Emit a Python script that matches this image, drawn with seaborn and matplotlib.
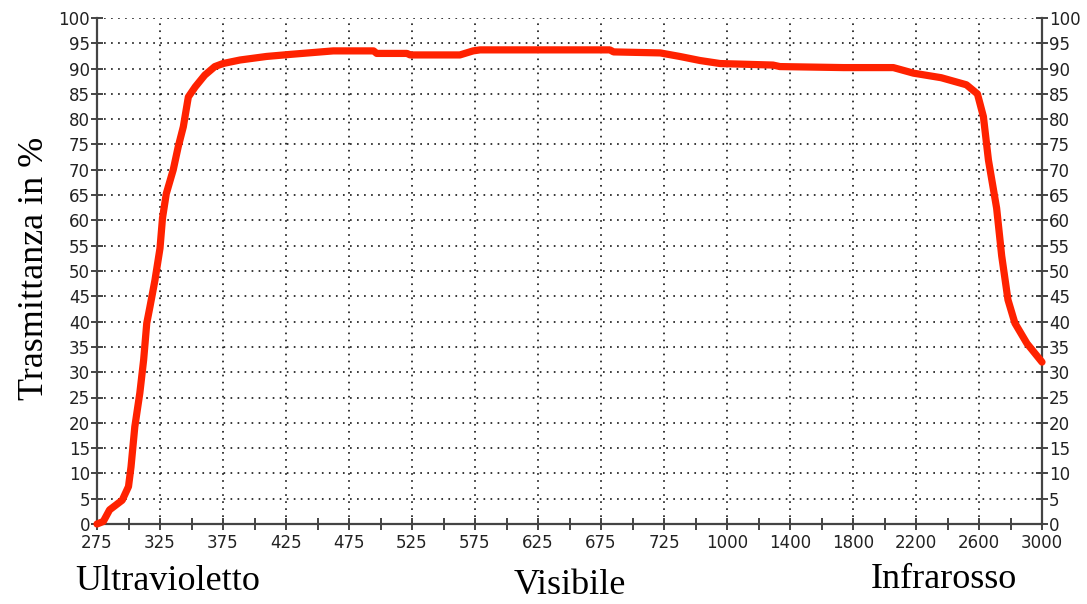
import numpy as np
import pandas as pd
import matplotlib
matplotlib.use("Agg")
import matplotlib.pyplot as plt
import seaborn as sns

# ---- data ----
wavelength_nm = [275, 280, 285, 295, 300, 302, 305, 309, 312, 314.5, 317, 321, 325,
                 327, 330, 335.5, 339.5, 343.5, 347.5, 353, 360.5, 368.5, 375,
                 388.5, 409.5, 428, 462.5, 494.5, 497, 521, 523.5, 563, 573.5, 579,
                 682, 685, 722, 794, 882, 970, 1292, 1336, 1740, 2056, 2184, 2360,
                 2520, 2590, 2628, 2660, 2712, 2744, 2784, 2828, 2904, 3000]
transmittance = [0, 0.5, 2.8, 4.7, 7.4, 11.3, 19.2, 25.9, 32.4, 39.7, 42.9, 48.2, 54.5,
                 60.5, 65.3, 70, 74.6, 78.5, 84.4, 86.4, 88.7, 90.4, 91.0,
                 91.7, 92.4, 92.8, 93.5, 93.5, 93.0, 93.0, 92.7, 92.7, 93.5, 93.7,
                 93.7, 93.3, 93.1, 92.4, 91.6, 91.0, 90.7, 90.4, 90.2, 90.2, 89.1, 88.2,
                 86.8, 85.0, 80.5, 71.9, 62.4, 53.0, 44.3, 39.7, 35.7, 32.0]
x_tick_values = [275, 325, 375, 425, 475, 525, 575, 625, 675, 725,
                 1000, 1400, 1800, 2200, 2600, 3000]
y_tick_values = list(range(0, 101, 5))
y_label = "Trasmittanza in %"
region_labels = ["Ultravioletto", "Visibile", "Infrarosso"]

df = pd.DataFrame({"wl": wavelength_nm, "T": transmittance})

# piecewise-linear scale: ticks equally spaced
tick_pos = np.arange(len(x_tick_values), dtype=float)
tick_wl = np.array(x_tick_values, dtype=float)

def fwd(x):
    return np.interp(x, tick_wl, tick_pos)

def inv(p):
    return np.interp(p, tick_pos, tick_wl)

sns.set_style("white")
plt.rcParams['font.family'] = ['DejaVu Sans']

fig = plt.figure(figsize=(10.87, 6.04), dpi=100)
ax = fig.add_axes([97/1087, 1 - 524/604, (1042 - 97)/1087, (524 - 18)/604])

ax.set_xscale('function', functions=(fwd, inv))
sns.lineplot(data=df, x="wl", y="T", ax=ax, color="#ff2200", linewidth=5.2,
             sort=False, estimator=None, clip_on=False, zorder=5)
for l in ax.lines:
    l.set_solid_capstyle('round')
    l.set_solid_joinstyle('round')

ax.set_xlim(275, 3000)
ax.set_ylim(0, 100)
ax.set_xticks(x_tick_values)
ax.set_xticklabels([str(v) for v in x_tick_values])
minor = inv(tick_pos[:-1] + 0.5)
ax.set_xticks(minor, minor=True)
ax.set_yticks(y_tick_values)
ax.set_yticklabels([str(v) for v in y_tick_values])

ax.grid(True, which='major', color='black', linewidth=1.1, linestyle=(0, (1.1, 3.5)))
ax.set_axisbelow(True)

ax.spines['top'].set_visible(False)
for s in ['left', 'right', 'bottom']:
    ax.spines[s].set_visible(True)
    ax.spines[s].set_color('#444444')
    ax.spines[s].set_linewidth(1.6)

ax.tick_params(axis='both', which='both', direction='inout', colors='#444444',
               labelcolor='#222222', width=1.4, labelsize=12)
ax.tick_params(axis='y', which='major', length=8, left=True, right=True,
               labelleft=True, labelright=True, pad=1)
ax.tick_params(axis='x', which='major', length=8, bottom=True, top=False, pad=3)
ax.tick_params(axis='x', which='minor', length=8, bottom=True, top=False)

ax.set_xlabel("")
ax.set_ylabel("")

serif = ['Liberation Serif', 'DejaVu Serif']
fig.text(35/1087, 1 - 268/604, y_label, rotation=90, ha='center', va='center',
         fontsize=26, family=serif, color='black')
fig.text(75/1087, 1 - 582/604, region_labels[0], ha='left', va='center',
         fontsize=26, family=serif, color='black')
fig.text(570/1087, 1 - 585/604, region_labels[1], ha='center', va='center',
         fontsize=26, family=serif, color='black')
fig.text(1017/1087, 1 - 580/604, region_labels[2], ha='right', va='center',
         fontsize=26, family=serif, color='black')

fig.savefig("out.png", dpi=100, facecolor='white')
